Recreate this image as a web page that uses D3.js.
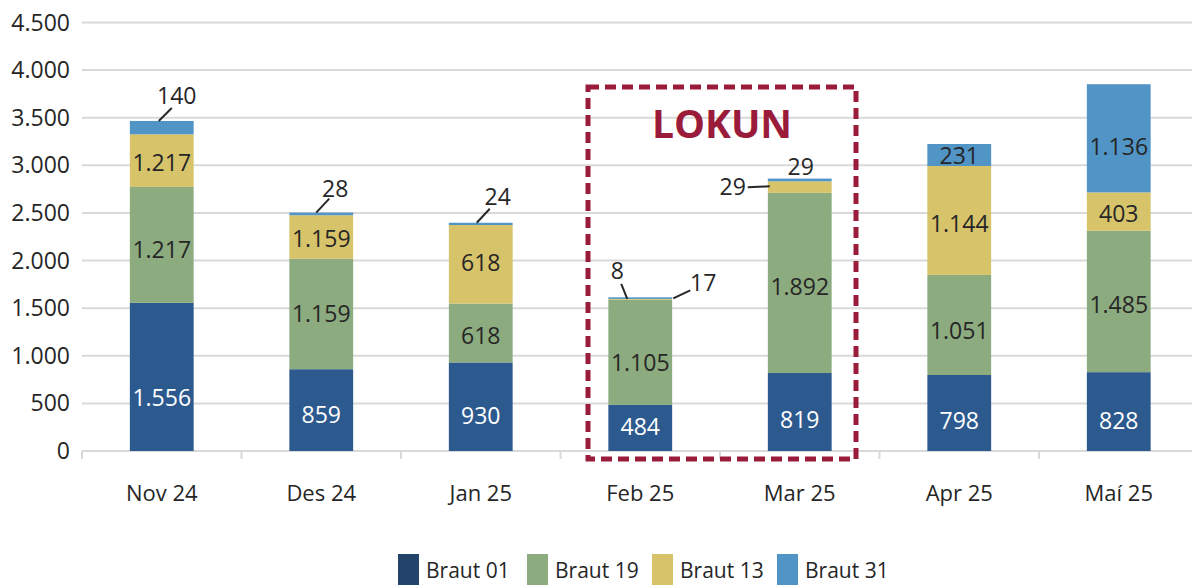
<!DOCTYPE html>
<html>
<head>
<meta charset="utf-8">
<script src="https://cdn.jsdelivr.net/npm/d3@7"></script>
<style>
  body { margin: 0; background: #fff; }
  svg { font-family: "Open Sans", "Noto Sans", sans-serif; }
</style>
</head>
<body>
<svg width="1192" height="585"></svg>
<script>
// months
var months = ["Nov 24", "Des 24", "Jan 25", "Feb 25", "Mar 25", "Apr 25", "Maí 25"];
var seriesNames = ["Braut 01", "Braut 19", "Braut 13", "Braut 31"];

// bar heights
var braut01 = [1556, 859, 930, 484, 819, 798, 828];
var braut19 = [1217, 1159, 618, 1105, 1892, 1051, 1485];
var braut13 = [553, 458, 825, 8, 121, 1144, 403];
var braut31 = [140, 28, 24, 17, 29, 231, 1136];

// the labels as printed (some yellow labels differ from the bar heights)
var labels01 = ["1.556", "859", "930", "484", "819", "798", "828"];
var labels19 = ["1.217", "1.159", "618", "1.105", "1.892", "1.051", "1.485"];
var labels13 = ["1.217", "1.159", "618", "8", "29", "1.144", "403"];
var labels31 = ["140", "28", "24", "17", "29", "231", "1.136"];

var yTicks = [0, 500, 1000, 1500, 2000, 2500, 3000, 3500, 4000, 4500];

var colors = ["#2d5a8e", "#8cab7f", "#d6c36a", "#5195c6"];
var legendColors = ["#24436b", "#8cab7f", "#d6c36a", "#5195c6"];
var textDark = "#262626";

// vertical nudges of the inside labels (px), per series, as placed in the original
var labelShift = [
  [21, 5, 9, -1, 8, 8, 9],
  [5, 0, 3, 11, 4, 6, 3],
  [2, 2, -1, 0, 0, 3, 2],
  [0, 0, 0, 0, 0, 1, 9]
];

var svg = d3.select("svg"),
    width = +svg.attr("width"),
    height = +svg.attr("height");

var plotLeft = 82, plotRight = 1198.5, plotTop = 22.5, plotBottom = 451;

var x = d3.scaleBand().domain(months).range([plotLeft, plotRight]).paddingInner(0.6).paddingOuter(0.3);
var y = d3.scaleLinear().domain([0, 4500]).range([plotBottom, plotTop]);

var loc = d3.formatLocale({decimal: ",", thousands: ".", grouping: [3], currency: ["", ""]});
var fmt = loc.format(",.0f");

// gridlines
svg.append("g").selectAll("line")
  .data(yTicks.slice(1))
  .enter().append("line")
  .attr("x1", plotLeft).attr("x2", width)
  .attr("y1", function(d) { return y(d); })
  .attr("y2", function(d) { return y(d); })
  .attr("stroke", "#d9d9d9").attr("stroke-width", 2);

// y labels
svg.append("g").selectAll("text")
  .data(yTicks)
  .enter().append("text")
  .attr("x", 70)
  .attr("y", function(d) { return y(d); })
  .attr("dy", "0.35em")
  .attr("text-anchor", "end")
  .attr("font-size", 23)
  .attr("fill", textDark)
  .text(function(d) { return fmt(d); });

// x axis line + ticks between months
svg.append("line")
  .attr("x1", plotLeft).attr("x2", width)
  .attr("y1", plotBottom).attr("y2", plotBottom)
  .attr("stroke", "#d9d9d9").attr("stroke-width", 2);

var tickXs = months.map(function(m, i) { return plotLeft + i * x.step(); });
svg.append("g").selectAll("line")
  .data(tickXs)
  .enter().append("line")
  .attr("x1", function(d) { return d; }).attr("x2", function(d) { return d; })
  .attr("y1", plotBottom).attr("y2", plotBottom + 8)
  .attr("stroke", "#d9d9d9").attr("stroke-width", 2);

svg.append("g").selectAll("text")
  .data(months)
  .enter().append("text")
  .attr("x", function(d) { return x(d) + x.bandwidth() / 2; })
  .attr("y", 493)
  .attr("dy", "0.35em")
  .attr("text-anchor", "middle")
  .attr("font-size", 22)
  .attr("fill", textDark)
  .text(function(d) { return d; });

// stack
var rows = months.map(function(m, i) {
  return {month: m, idx: i, b01: braut01[i], b19: braut19[i], b13: braut13[i], b31: braut31[i],
          l: [labels01[i], labels19[i], labels13[i], labels31[i]]};
});
var keys = ["b01", "b19", "b13", "b31"];
var stacked = d3.stack().keys(keys)(rows);

var layer = svg.append("g").selectAll("g")
  .data(stacked)
  .enter().append("g")
  .attr("fill", function(d, i) { return colors[i]; });

layer.selectAll("rect")
  .data(function(d) { return d; })
  .enter().append("rect")
  .attr("x", function(d) { return x(d.data.month); })
  .attr("width", x.bandwidth())
  .attr("y", function(d) { return y(d[1]); })
  .attr("height", function(d) { return y(d[0]) - y(d[1]); });

// labels inside (segments that are tall enough)
stacked.forEach(function(s, si) {
  svg.append("g").selectAll("text")
    .data(s.filter(function(d) { return y(d[0]) - y(d[1]) > 18; }))
    .enter().append("text")
    .attr("x", function(d) { return x(d.data.month) + x.bandwidth() / 2; })
    .attr("y", function(d) { return (y(d[0]) + y(d[1])) / 2 + labelShift[si][d.data.idx]; })
    .attr("dy", "0.35em")
    .attr("text-anchor", "middle")
    .attr("font-size", 23)
    .attr("fill", si === 0 ? "#fff" : textDark)
    .text(function(d) { return d.data.l[si]; });
});

// outside labels with leader lines (offsets from bar centre / segment top)
var outside = [
  {m: "Nov 24", s: 3, lx: 15, ly: -25, line: [-3, 0, 10, -13]},
  {m: "Des 24", s: 3, lx: 14, ly: -24, line: [-5, 0, 8, -14]},
  {m: "Jan 25", s: 3, lx: 17, ly: -26, line: [-4, 0, 9, -14]},
  {m: "Feb 25", s: 2, lx: -23, ly: -28, line: [-13, 0, -19, -15]},
  {m: "Feb 25", s: 3, lx: 63, ly: -14, line: [33, 1, 50, -7]},
  {m: "Mar 25", s: 2, lx: -67, ly: 6, line: [-52, 6, -30, 5]},
  {m: "Mar 25", s: 3, lx: 1, ly: -12, line: null}
];
outside.forEach(function(o) {
  var i = months.indexOf(o.m);
  var seg = stacked[o.s][i];
  var cx = x(o.m) + x.bandwidth() / 2;
  var ty = y(seg[1]);
  if (o.line) {
    svg.append("line")
      .attr("x1", cx + o.line[0]).attr("y1", ty + o.line[1])
      .attr("x2", cx + o.line[2]).attr("y2", ty + o.line[3])
      .attr("stroke", textDark).attr("stroke-width", 2);
  }
  svg.append("text")
    .attr("x", cx + o.lx)
    .attr("y", ty + o.ly)
    .attr("dy", "0.35em")
    .attr("text-anchor", "middle")
    .attr("font-size", 23)
    .attr("fill", textDark)
    .text(seg.data.l[o.s]);
});

// LOKUN box
svg.append("rect")
  .attr("x", 588).attr("y", 87)
  .attr("width", 268).attr("height", 372)
  .attr("fill", "none")
  .attr("stroke", "#9b1c3a")
  .attr("stroke-width", 5)
  .attr("stroke-dasharray", "11,6");

svg.append("text")
  .attr("x", 722).attr("y", 138)
  .attr("text-anchor", "middle")
  .attr("font-size", 39)
  .attr("font-weight", "bold")
  .attr("fill", "#9b1c3a")
  .text("LOKUN");

// legend
var legendX = [398, 527, 652, 777];
var legend = svg.append("g").selectAll("g")
  .data(seriesNames)
  .enter().append("g")
  .attr("transform", function(d, i) { return "translate(" + legendX[i] + ",554)"; });
legend.append("rect")
  .attr("width", 21).attr("height", 31)
  .attr("fill", function(d, i) { return legendColors[i]; });
legend.append("text")
  .attr("x", 28).attr("y", 17)
  .attr("dy", "0.35em")
  .attr("font-size", 21)
  .attr("fill", textDark)
  .text(function(d) { return d; });
</script>
</body>
</html>
